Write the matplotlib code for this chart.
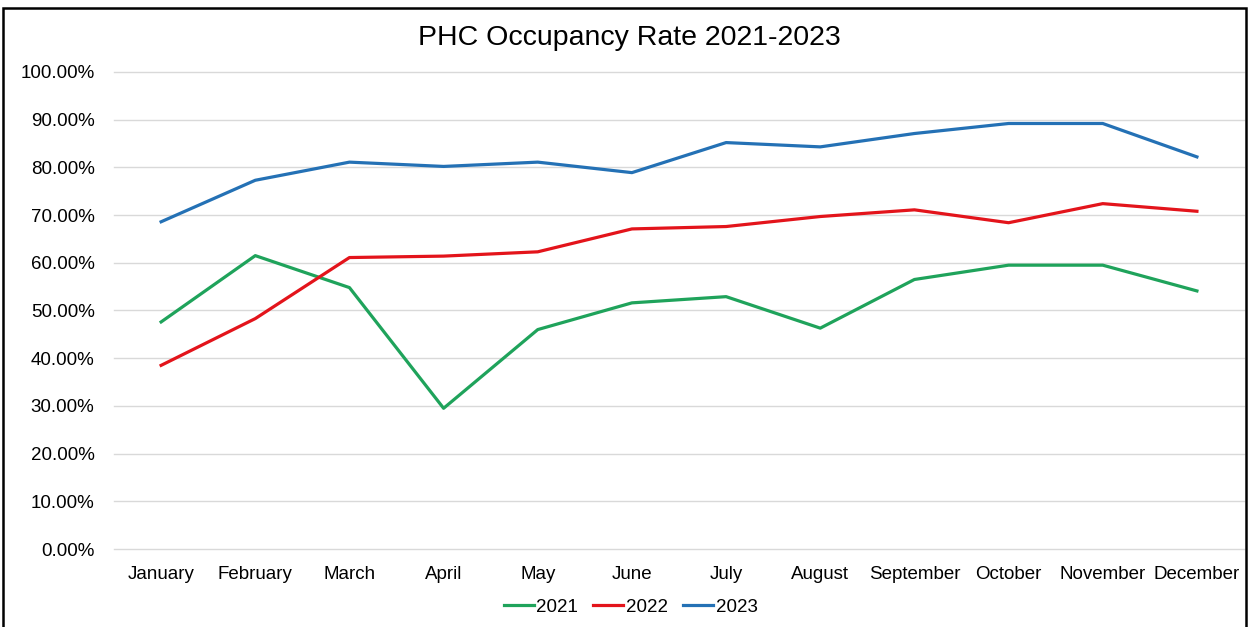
import matplotlib.pyplot as plt
from matplotlib.patches import Rectangle
from matplotlib.ticker import PercentFormatter

plt.rcParams['font.family'] = ['Liberation Sans', 'DejaVu Sans']

months = ["January", "February", "March", "April", "May", "June",
          "July", "August", "September", "October", "November", "December"]

# monthly occupancy rates (fractions)
rate_2021 = [0.476, 0.615, 0.548, 0.295, 0.460, 0.516, 0.529, 0.463, 0.565, 0.595, 0.595, 0.541]
rate_2022 = [0.385, 0.483, 0.611, 0.614, 0.623, 0.671, 0.676, 0.697, 0.711, 0.684, 0.724, 0.708]
rate_2023 = [0.686, 0.773, 0.811, 0.802, 0.811, 0.789, 0.852, 0.843, 0.871, 0.892, 0.892, 0.822]

fig = plt.figure(figsize=(12.49, 6.27), dpi=100)
ax = fig.add_axes([0.0913, 0.1244, 0.9047, 0.7608])

x = range(len(months))
ax.plot(x, rate_2021, color="#1fa35b", lw=2.3, label="2021")
ax.plot(x, rate_2022, color="#e3141b", lw=2.3, label="2022")
ax.plot(x, rate_2023, color="#2471b5", lw=2.3, label="2023")

ax.set_xlim(-0.5, len(months) - 0.5)
ax.set_ylim(0, 1.0)
ax.set_yticks([i / 10 for i in range(11)])
ax.yaxis.set_major_formatter(PercentFormatter(1.0, decimals=2))
ax.set_xticks(list(x))
ax.set_xticklabels(months)
ax.tick_params(axis="y", length=0, pad=14, labelsize=13.5)
ax.tick_params(axis="x", length=0, pad=12, labelsize=13.5)
ax.grid(axis="y", color="#d9d9d9", lw=1)
for gl in ax.get_ygridlines():
    gl.set_clip_on(False)
ax.set_axisbelow(True)
for s in ax.spines.values():
    s.set_visible(False)

fig.text(0.504, 0.939, "PHC Occupancy Rate 2021-2023", ha="center", va="center", fontsize=20.5)

fig.legend(loc="lower center", bbox_to_anchor=(0.505, -0.009), ncol=3, frameon=False,
           fontsize=13.5, handlelength=1.6, handletextpad=0.15, columnspacing=0.8)

# outer frame
fig.add_artist(Rectangle((3 / 1249, -0.02), 1243 / 1249, 1.02 - 8 / 627,
                         transform=fig.transFigure, fill=False, ec="black", lw=1.8))

fig.savefig("out.png", dpi=100)
